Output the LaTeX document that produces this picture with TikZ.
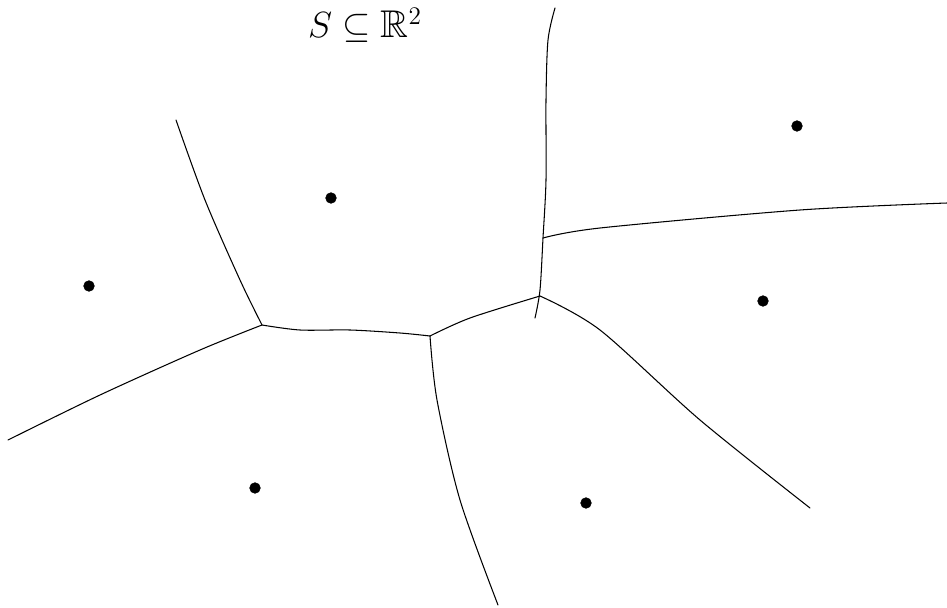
\documentclass[tikz,border=0pt]{standalone}
\usepackage{amsmath,amssymb}
\usepackage{tikz}
\usetikzlibrary{positioning}
\tikzset{
  site/.style={circle,fill=black,draw=black,inner sep=0pt,minimum size=6pt},
  edge/.style={line width=0.6pt,line cap=round,line join=round},
}
\begin{document}
\begin{tikzpicture}[x=0.02cm,y=-0.02cm]
  \useasboundingbox (0,0) rectangle (947,608);
  \node[anchor=base,inner sep=0pt,font=\fontsize{22}{26}\selectfont] (title) at (365,38) {$S \subseteq \mathbb{R}^2$};
  % sites
  \node[site] (s1) at (797,126) {};
  \node[site] (s2) at (331,198) {};
  \node[site] (s3) at (89,286) {};
  \node[site] (s4) at (763,301) {};
  \node[site] (s5) at (255,488) {};
  \node[site] (s6) at (586,503) {};
  % voronoi vertices
  \coordinate (v1) at (262,325);
  \coordinate (v2) at (430,336);
  \coordinate (v3) at (540,296);
  \coordinate (v4) at (543,238);
  % edges
  \draw[edge] plot[smooth] coordinates {(176,120) (205,200) (240,280) (v1)};
  \draw[edge] plot[smooth] coordinates {(v1) (200,350) (100,395) (8,440)};
  \draw[edge] plot[smooth] coordinates {(v1) (300,330) (350,330) (400,333) (v2)};
  \draw[edge] plot[smooth] coordinates {(v2) (437,400) (460,500) (498,605)};
  \draw[edge] plot[smooth] coordinates {(v2) (470,318) (v3)};
  \draw[edge] plot[smooth] coordinates {(555,8) (548,40) (546,100) (546,180) (v4) (540,290) (535,318)};
  \draw[edge] plot[smooth] coordinates {(v4) (600,228) (800,210) (947,203)};
  \draw[edge] plot[smooth] coordinates {(v3) (600,330) (700,420) (810,508)};
\end{tikzpicture}
\end{document}
